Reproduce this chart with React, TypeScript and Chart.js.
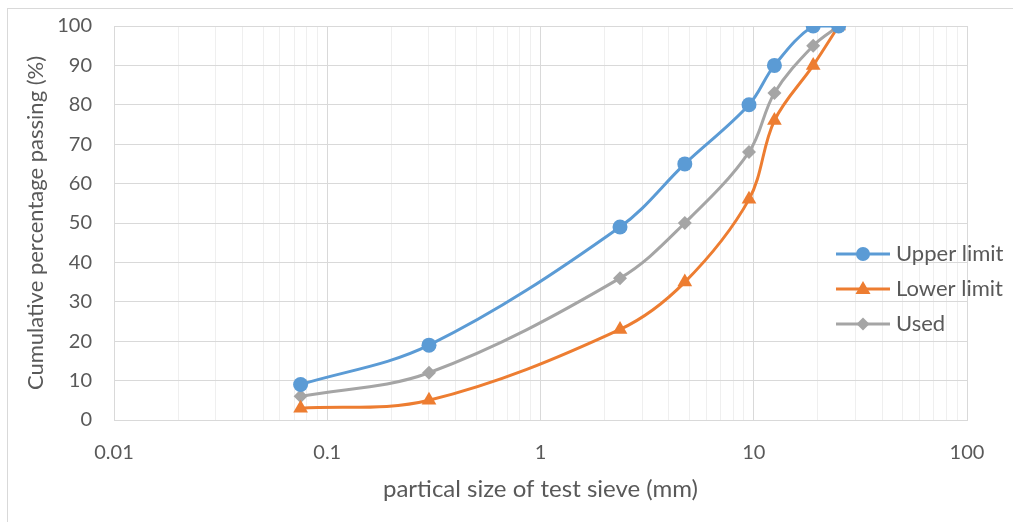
import React, { useEffect, useRef } from "react";
import { Chart, registerables } from "chart.js";

Chart.register(...registerables);

const sieveSizes = [0.075, 0.3, 2.36, 4.75, 9.5, 12.5, 19, 25];
const upperLimit = [9, 19, 49, 65, 80, 90, 100, 100];
const lowerLimit = [3, 5, 23, 35, 56, 76, 90, 100];
const used = [6, 12, 36, 50, 68, 83, 95, 100];

const seriesNames = ["Upper limit", "Lower limit", "Used"];
const seriesColors = ["#5b9bd5", "#ed7d31", "#a5a5a5"];
const seriesMarkers = ["circle", "triangle", "rectRot"];

const xTitle = "partical size of test sieve (mm)";
const yTitle = "Cumulative percentage passing (%)";

const FONT = "Lato";
const TEXT = "#595959";

function drawMarker(ctx: CanvasRenderingContext2D, kind: string, x: number, y: number, color: string) {
  ctx.save();
  ctx.fillStyle = color;
  ctx.beginPath();
  if (kind === "circle") {
    ctx.arc(x, y, 7, 0, Math.PI * 2);
  } else if (kind === "triangle") {
    ctx.moveTo(x, y - 8);
    ctx.lineTo(x + 7.5, y + 5);
    ctx.lineTo(x - 7.5, y + 5);
    ctx.closePath();
  } else {
    ctx.moveTo(x, y - 6.5);
    ctx.lineTo(x + 6.5, y);
    ctx.lineTo(x, y + 6.5);
    ctx.lineTo(x - 6.5, y);
    ctx.closePath();
  }
  ctx.fill();
  ctx.restore();
}

const legendPlugin = {
  id: "customLegend",
  afterDraw(chart: any) {
    const ctx = chart.ctx as CanvasRenderingContext2D;
    const x0 = 828;
    const y0 = 245;
    const gap = 35;
    seriesNames.forEach((name, i) => {
      const y = y0 + i * gap;
      ctx.save();
      ctx.strokeStyle = seriesColors[i];
      ctx.lineWidth = 3;
      ctx.beginPath();
      ctx.moveTo(x0, y);
      ctx.lineTo(x0 + 54, y);
      ctx.stroke();
      drawMarker(ctx, seriesMarkers[i], x0 + 27, y, seriesColors[i]);
      ctx.fillStyle = TEXT;
      ctx.font = `22px ${FONT}`;
      ctx.textBaseline = "middle";
      ctx.textAlign = "left";
      ctx.fillText(name, x0 + 60, y);
      ctx.restore();
    });
  },
};

export default function App() {
  const ref = useRef<HTMLCanvasElement | null>(null);
  useEffect(() => {
    if (!ref.current) return;
    const values = [upperLimit, lowerLimit, used];
    const chart = new Chart(ref.current, {
      type: "line",
      data: {
        datasets: seriesNames.map((name, i) => ({
          label: name,
          data: sieveSizes.map((s, j) => ({ x: s, y: values[i][j] })),
          borderColor: seriesColors[i],
          backgroundColor: seriesColors[i],
          borderWidth: 3,
          pointStyle: seriesMarkers[i] as any,
          pointRadius: i === 0 ? 7.5 : i === 1 ? 8.5 : 7,
          pointBorderWidth: 0,
          tension: 0.35,
          fill: false,
        })),
      },
      options: {
        animation: false,
        responsive: false,
        layout: { padding: { left: 0, right: 46, top: 0, bottom: 0 } },
        plugins: { legend: { display: false }, tooltip: { enabled: false } },
        scales: {
          x: {
            type: "logarithmic",
            min: 0.01,
            max: 100,
            afterBuildTicks(scale: any) {
              const ticks: any[] = [];
              for (let d = -2; d <= 1; d++) {
                for (let m = 1; m <= 9; m++) {
                  const v = Number((m * Math.pow(10, d)).toPrecision(6));
                  ticks.push({ value: v, major: m === 1 });
                }
              }
              ticks.push({ value: 100, major: true });
              scale.ticks = ticks;
            },
            afterFit(scale: any) {
              scale.height = 102;
            },
            grid: {
              drawTicks: false,
              color: (c: any) => (c.tick && c.tick.major ? "#d9d9d9" : "#efefef"),
              lineWidth: 1,
            },
            border: { color: "#d9d9d9" },
            ticks: {
              autoSkip: false,
              maxRotation: 0,
              padding: 21,
              color: TEXT,
              font: { family: FONT, size: 20 },
              callback: (v: any) => {
                const l = Math.log10(Number(v));
                if (Math.abs(l - Math.round(l)) < 1e-9) return String(Number(v));
                return "";
              },
            },
            title: {
              display: true,
              text: xTitle,
              color: TEXT,
              font: { family: FONT, size: 24 },
              padding: 18,
            },
          },
          y: {
            min: 0,
            max: 100,
            afterFit(scale: any) {
              scale.width = 106;
              scale.paddingTop = 17;
              scale.paddingBottom = 0;
            },
            grid: { drawTicks: false, color: "#d9d9d9" },
            border: { color: "#d9d9d9" },
            ticks: {
              stepSize: 10,
              padding: 22,
              color: TEXT,
              font: { family: FONT, size: 20 },
            },
            title: {
              display: true,
              text: yTitle,
              color: TEXT,
              font: { family: FONT, size: 22 },
              padding: 15,
            },
          },
        },
      },
      plugins: [legendPlugin],
    });
    return () => chart.destroy();
  }, []);
  return (
    <div
      style={{
        position: "fixed",
        left: 7,
        top: 8,
        width: 1006,
        height: 514,
        borderLeft: "1px solid #d9d9d9",
        borderTop: "1px solid #d9d9d9",
        boxSizing: "border-box",
        background: "#fff",
      }}
    >
      <canvas ref={ref} width={1005} height={513} style={{ display: "block", width: 1005, height: 513 }} />
    </div>
  );
}
